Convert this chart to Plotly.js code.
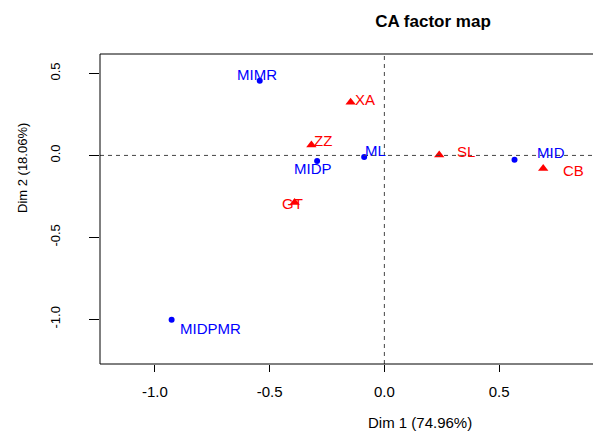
<!DOCTYPE html>
<html>
<head>
<meta charset="utf-8">
<script src="https://cdn.plot.ly/plotly-3.0.1.min.js"></script>
<style>html,body{margin:0;padding:0;background:#fff;}#chart{width:593px;height:432px;}</style>
</head>
<body>
<div id="chart"></div>
<script>
// Row points (blue)
const rowLabels = ["MIMR", "ML", "MIDP", "MID", "MIDPMR"];
const rowDim1 = [-0.543, -0.088, -0.293, 0.567, -0.927];
const rowDim2 = [0.456, -0.009, -0.034, -0.026, -1.003];
// Column points (red)
const colLabels = ["XA", "ZZ", "GT", "SL", "CB"];
const colDim1 = [-0.147, -0.318, -0.391, 0.239, 0.692];
const colDim2 = [0.324, 0.064, -0.288, 0.003, -0.080];
// Axis ticks
const tickValues = [-1.0, -0.5, 0.0, 0.5];
const tickLabels = ["-1.0", "-0.5", "0.0", "0.5"];

// label pixel offsets (layout only)
const rowOffsets = {MIMR:[-3,6], ML:[11,6], MIDP:[-4,-8], MID:[36,7], MIDPMR:[39,-9]};
const colOffsets = {XA:[14,3], ZZ:[12,4], GT:[-2,-1], SL:[27,3], CB:[30,-2]};

const BLUE = "#0000ff", RED = "#ff0000";
const FONT = "Liberation Sans, Arial, sans-serif";

const traces = [
  {x: rowDim1, y: rowDim2, mode: "markers", type: "scatter", name: "rows",
   marker: {color: BLUE, size: 6, symbol: "circle"}, hoverinfo: "skip"},
  {x: colDim1, y: colDim2, mode: "markers", type: "scatter", name: "cols",
   marker: {color: RED, size: 9, symbol: "triangle-up"}, hoverinfo: "skip"}
];

const annotations = [];
rowLabels.forEach((t, i) => annotations.push({x: rowDim1[i], y: rowDim2[i], text: t, showarrow: false,
  xshift: rowOffsets[t][0], yshift: rowOffsets[t][1], font: {family: FONT, size: 15, color: BLUE}}));
colLabels.forEach((t, i) => annotations.push({x: colDim1[i], y: colDim2[i], text: t, showarrow: false,
  xshift: colOffsets[t][0], yshift: colOffsets[t][1], font: {family: FONT, size: 15, color: RED}}));

// axis titles
annotations.push({xref: "paper", yref: "paper", x: (420 - 100) / 493, y: (364 - 422) / 310,
  text: "Dim 1 (74.96%)", showarrow: false, xanchor: "center", yanchor: "middle",
  font: {family: FONT, size: 15, color: "#000"}});
annotations.push({xref: "paper", yref: "paper", x: (22 - 100) / 493, y: (364 - 168) / 310,
  text: "Dim 2 (18.06%)", showarrow: false, textangle: -90, xanchor: "center", yanchor: "middle",
  font: {family: FONT, size: 13, color: "#000"}});

const layout = {
  width: 593, height: 432,
  margin: {l: 100, r: 0, t: 54, b: 68},
  paper_bgcolor: "#fff", plot_bgcolor: "#fff",
  showlegend: false,
  title: {text: "<b>CA factor map</b>", x: 433 / 593, xref: "container", y: 1 - 21 / 432, yref: "container",
          xanchor: "center", yanchor: "middle", font: {family: FONT, size: 17, color: "#000"}},
  xaxis: {range: [-1.239, 0.909], tickvals: tickValues, ticktext: tickLabels,
          ticks: "outside", ticklen: 7, tickcolor: "#000", tickwidth: 1,
          showgrid: false, zeroline: false, showline: false, ticklabelstandoff: 7,
          tickfont: {family: FONT, size: 15, color: "#000"}},
  yaxis: {range: [-1.273, 0.619], tickvals: tickValues, ticktext: tickLabels,
          ticks: "outside", ticklen: 10, tickcolor: "#000", tickwidth: 1, tickangle: -90,
          showgrid: false, zeroline: false, showline: false, ticklabelstandoff: 24,
          tickfont: {family: FONT, size: 13, color: "#000"}},
  shapes: [
    {type: "line", xref: "x", yref: "paper", x0: 0, x1: 0, y0: 0, y1: 1,
     line: {color: "#444", width: 1, dash: "4px,4px"}},
    {type: "line", xref: "paper", yref: "y", x0: 0, x1: 1, y0: 0, y1: 0,
     line: {color: "#444", width: 1, dash: "4px,4px"}},
    {type: "line", xref: "paper", yref: "paper", x0: 0, x1: 0, y0: 0, y1: 1, line: {color: "#000", width: 1}},
    {type: "line", xref: "paper", yref: "paper", x0: 0, x1: 1, y0: 0, y1: 0, line: {color: "#000", width: 1}},
    {type: "line", xref: "paper", yref: "paper", x0: 0, x1: 1, y0: 1, y1: 1, line: {color: "#000", width: 1}}
  ],
  annotations: annotations
};

Plotly.newPlot("chart", traces, layout, {displayModeBar: false, staticPlot: true});
</script>
</body>
</html>
